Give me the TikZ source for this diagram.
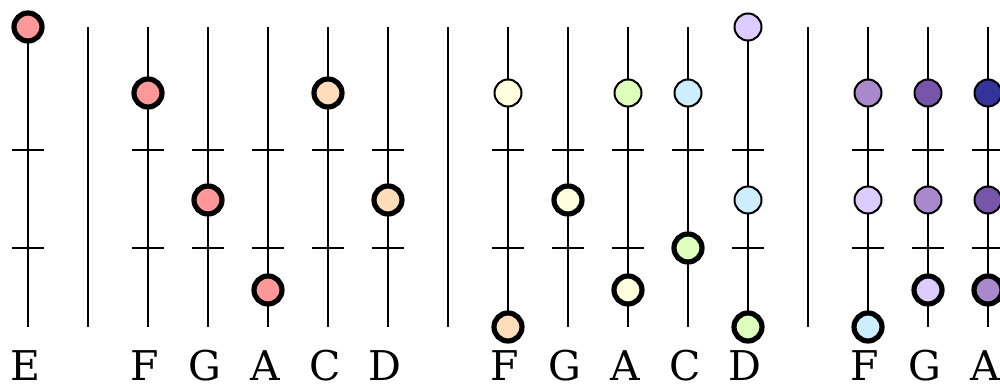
\documentclass[tikz,border=0pt]{standalone}
\usepackage{fontspec}
\setmainfont{DejaVu Serif}
\usepackage{tikz}
\usepackage{xcolor}

\definecolor{notered}{HTML}{FF9999}
\definecolor{notepeach}{HTML}{FFDDBB}
\definecolor{noteyellow}{HTML}{FFFFDD}
\definecolor{notegreen}{HTML}{DDFFBB}
\definecolor{noteblue}{HTML}{CCEEFF}
\definecolor{notelilac}{HTML}{DDCCFF}
\definecolor{notemauve}{HTML}{AA88CC}
\definecolor{notepurple}{HTML}{7755AA}
\definecolor{noteindigo}{HTML}{333399}

\begin{document}
\begin{tikzpicture}[x=0.5pt,y=0.5pt,
    string/.style={black,line width=1pt},
    open/.style={circle,draw=black,line width=1pt,minimum size=13.5pt,inner sep=0pt},
    played/.style={circle,draw=black,line width=2.6pt,minimum size=14pt,inner sep=0pt},
    notename/.style={anchor=base,font=\fontsize{20.5}{24}\selectfont}]
    \useasboundingbox (0,0) rectangle (1000,389);
    % strings with their two frets
    \foreach \x in {28,148,208,268,328,388,508,568,628,688,748,868,928,988} {
        \draw[string] (\x,62) -- (\x,362);
        \draw[string] (\x-16,239) -- (\x+16,239);
        \draw[string] (\x-16,141) -- (\x+16,141);
    }
    % bars between the groups
    \foreach \x in {88,448,808}
        \draw[string] (\x,62) -- (\x,362);
    % first group
    \node[played,fill=notered] (e1) at (28,362) {};
    % second group
    \node[played,fill=notered] (f2) at (148,296) {};
    \node[played,fill=notered] (g2) at (208,189) {};
    \node[played,fill=notered] (a2) at (268,99) {};
    \node[played,fill=notepeach] (c2) at (328,296) {};
    \node[played,fill=notepeach] (d2) at (388,189) {};
    % third group
    \node[open,fill=noteyellow] (f3a) at (508,296) {};
    \node[played,fill=notepeach] (f3b) at (508,62) {};
    \node[played,fill=noteyellow] (g3) at (568,189) {};
    \node[open,fill=notegreen] (a3a) at (628,296) {};
    \node[played,fill=noteyellow] (a3b) at (628,99) {};
    \node[open,fill=noteblue] (c3a) at (688,296) {};
    \node[played,fill=notegreen] (c3b) at (688,141) {};
    \node[open,fill=notelilac] (d3a) at (748,362) {};
    \node[open,fill=noteblue] (d3b) at (748,189) {};
    \node[played,fill=notegreen] (d3c) at (748,62) {};
    % fourth group
    \node[open,fill=notemauve] (f4a) at (868,296) {};
    \node[open,fill=notelilac] (f4b) at (868,189) {};
    \node[played,fill=noteblue] (f4c) at (868,62) {};
    \node[open,fill=notepurple] (g4a) at (928,296) {};
    \node[open,fill=notemauve] (g4b) at (928,189) {};
    \node[played,fill=notelilac] (g4c) at (928,99) {};
    \node[open,fill=noteindigo] (a4a) at (988,296) {};
    \node[open,fill=notepurple] (a4b) at (988,189) {};
    \node[played,fill=notemauve] (a4c) at (988,99) {};
    % note names
    \foreach \x/\n in {28/E,148/F,208/G,268/A,328/C,388/D,508/F,568/G,628/A,688/C,748/D,868/F,928/G,988/A}
        \node[notename] (lbl\x) at (\x-3,8) {\n};
\end{tikzpicture}
\end{document}
